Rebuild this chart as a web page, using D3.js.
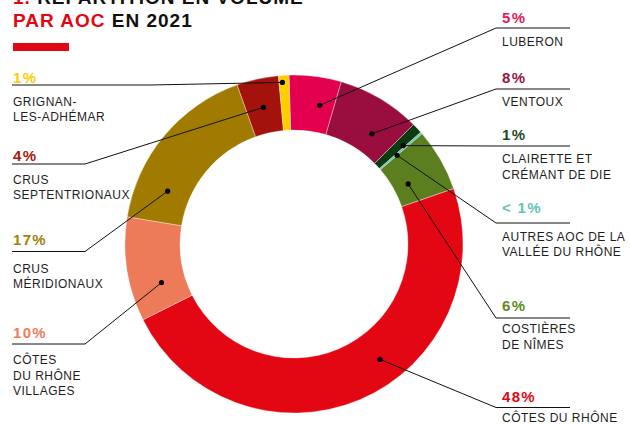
<!DOCTYPE html>
<html lang="fr">
<head>
<meta charset="utf-8">
<script src="https://cdn.jsdelivr.net/npm/d3@7"></script>
<style>
  html, body { margin: 0; padding: 0; background: #fff; }
  svg { display: block; }
  text { font-family: "Liberation Sans", Arial, Helvetica, sans-serif; }
</style>
</head>
<body>
<svg id="chart" width="630" height="424"></svg>
<script>
// Share of volume by appellation, 2021 (clockwise from the top)
const appellations = [
  "Luberon", "Ventoux", "Clairette et Crémant de Die", "Autres AOC de la Vallée du Rhône",
  "Costières de Nîmes", "Côtes du Rhône", "Côtes du Rhône Villages",
  "Crus méridionaux", "Crus septentrionaux", "Grignan-les-Adhémar"
];
const shares = [5, 8, 1, 0.2, 6, 48, 10, 17, 4, 1];
const shareLabels = ["5%", "8%", "1%", "< 1%", "6%", "48%", "10%", "17%", "4%", "1%"];
const nameLines = [
  ["LUBERON"],
  ["VENTOUX"],
  ["CLAIRETTE ET", "CRÉMANT DE DIE"],
  ["AUTRES AOC DE LA", "VALLÉE DU RHÔNE"],
  ["COSTIÈRES", "DE NÎMES"],
  ["CÔTES DU RHÔNE"],
  ["CÔTES", "DU RHÔNE", "VILLAGES"],
  ["CRUS", "MÉRIDIONAUX"],
  ["CRUS", "SEPTENTRIONAUX"],
  ["GRIGNAN-", "LES-ADHÉMAR"]
];
const colors = [
  "#e3004f", "#990e3f", "#0c3b12", "#5ec3b6", "#5b7f1f",
  "#e30613", "#ed7b5a", "#a17b00", "#a4130b", "#ffcc00"
];
const labelColors = [
  "#e6195a", "#9a1445", "#1f4a1f", "#63c4b8", "#5e8a22",
  "#e30613", "#ee7d5d", "#a37f0a", "#a5180f", "#ffcc00"
];

// Label placement: side, where the pointer touches its slice (fraction along the arc, radius),
// percent baseline, rule height, first name baseline, and the x of the rule's elbow.
const labelLayout = [
  { side: "right", frac: 0.68, rad: 141, pctY: 23,  ruleY: 28,  nameY: 45.5, elbowX: 496 },
  { side: "right", frac: 0.66, rad: 135, pctY: 83,  ruleY: 89,  nameY: 105.5, elbowX: 496 },
  { side: "right", frac: 0.83, rad: 147, pctY: 140, ruleY: 146, nameY: 163, elbowX: 496 },
  { side: "right", frac: 1.0,  rad: 136, pctY: 212.5, ruleY: 223, nameY: 240.5, elbowX: 496 },
  { side: "right", frac: 0.60, rad: 129, pctY: 311, ruleY: 318, nameY: 333, elbowX: 496 },
  { side: "right", frac: 0.42, rad: 144, pctY: 401.5, ruleY: 407.5, nameY: 421.5, elbowX: 496 },
  { side: "left",  frac: 0.29, rad: 138, pctY: 337.5, ruleY: 344, nameY: 364, elbowX: 85 },
  { side: "left",  frac: 0.22, rad: 137, pctY: 244.5, ruleY: 251.5, nameY: 272.5, elbowX: 85 },
  { side: "left",  frac: 0.49, rad: 140, pctY: 161, ruleY: 164, nameY: 183.5, elbowX: 85 },
  { side: "left",  frac: 0.33, rad: 162, pctY: 83,  ruleY: 85,  nameY: 105.5, elbowX: 150 }
];

const svg = d3.select("#chart");
const cx = 294, cy = 244, outerR = 169, innerR = 114;
const startDeg = -1.7;

// Title (its first line runs off the top of the frame)
const title = svg.append("g").attr("font-weight", "bold").attr("font-size", 19)
  .attr("letter-spacing", 1);
const t1 = title.append("text").attr("x", 13).attr("y", 4);
t1.append("tspan").attr("fill", "#e30613").text("1. ");
t1.append("tspan").attr("fill", "#111").text("RÉPARTITION EN VOLUME");
const t2 = title.append("text").attr("x", 13).attr("y", 27);
t2.append("tspan").attr("fill", "#e30613").text("PAR AOC");
t2.append("tspan").attr("fill", "#111").text(" EN 2021");
svg.append("rect").attr("x", 13).attr("y", 43).attr("width", 56).attr("height", 8)
  .attr("fill", "#e30613");

// Donut
const data = appellations.map((name, i) => ({ name, value: shares[i], i }));
const pie = d3.pie().sort(null).value(d => d.value)
  .startAngle(startDeg * Math.PI / 180)
  .endAngle((360 + startDeg) * Math.PI / 180);
const arcs = pie(data);
const arc = d3.arc().innerRadius(innerR).outerRadius(outerR);

const ring = svg.append("g").attr("transform", `translate(${cx},${cy})`);
ring.selectAll("path").data(arcs).join("path")
  .attr("d", arc)
  .attr("fill", d => colors[d.data.i])
  .attr("stroke", "#fff")
  .attr("stroke-width", 0.35);

// Pointers and labels
const labels = svg.append("g");
arcs.forEach(a => {
  const i = a.data.i;
  const L = labelLayout[i];
  const ang = a.startAngle + (a.endAngle - a.startAngle) * L.frac;
  const px = cx + L.rad * Math.sin(ang);
  const py = cy - L.rad * Math.cos(ang);
  const ruleEnd = L.side === "right" ? 570 : 12;
  const textX = L.side === "right" ? 502 : 13;

  labels.append("path")
    .attr("d", d3.line()([[px, py], [L.elbowX, L.ruleY], [ruleEnd, L.ruleY]]))
    .attr("fill", "none").attr("stroke", "#111").attr("stroke-width", 1);
  labels.append("circle").attr("cx", px).attr("cy", py).attr("r", 2.6).attr("fill", "#000");

  labels.append("text")
    .attr("x", textX).attr("y", L.pctY)
    .attr("font-size", 15).attr("font-weight", "bold").attr("letter-spacing", 1.3)
    .attr("fill", labelColors[i])
    .text(shareLabels[i]);

  const nm = labels.append("text")
    .attr("font-size", 12).attr("letter-spacing", 0.5).attr("fill", "#1e1e1e");
  nameLines[i].forEach((line, k) => {
    nm.append("tspan").attr("x", textX).attr("y", L.nameY + k * 15.5).text(line);
  });
});
</script>
</body>
</html>
